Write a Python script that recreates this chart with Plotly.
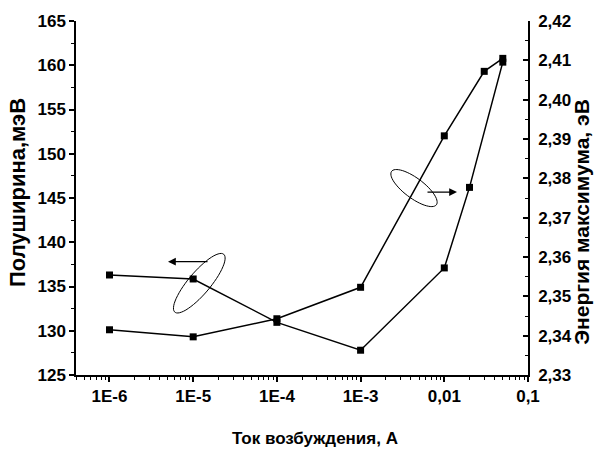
import numpy as np
import plotly.graph_objects as go

# Data
current_fwhm = [1e-6, 1e-5, 1e-4, 1e-3, 1e-2, 2e-2, 5e-2]
fwhm_mev = [136.3, 135.85, 130.95, 127.8, 137.1, 146.2, 160.35]

current_energy = [1e-6, 1e-5, 1e-4, 1e-3, 1e-2, 3e-2, 5e-2]
energy_ev = [2.3415, 2.3397, 2.3443, 2.3523, 2.3908, 2.4072, 2.4105]

x_tickvals = [1e-6, 1e-5, 1e-4, 1e-3, 1e-2, 1e-1]
x_ticktext = ["1E-6", "1E-5", "1E-4", "1E-3", "0,01", "0,1"]

x_title = "Ток возбуждения, А"
y_title = "Полуширина,мэВ"
y2_title = "Энергия максимума, эВ"

W, H = 600, 450
L, R, T, B = 76, 72, 19, 75
pw, ph = W - L - R, H - T - B

def px2paper(x, y):
    return (x - L) / pw, (H - B - y) / ph

def ellipse_path(cx, cy, a, b, ang_deg, n=60):
    t = np.linspace(0, 2 * np.pi, n)
    ang = np.deg2rad(ang_deg)
    xs = cx + a * np.cos(t) * np.cos(ang) - b * np.sin(t) * np.sin(ang)
    ys = cy + a * np.cos(t) * np.sin(ang) + b * np.sin(t) * np.cos(ang)
    pts = [px2paper(x, y) for x, y in zip(xs, ys)]
    return "M " + " L ".join(f"{x:.4f},{y:.4f}" for x, y in pts) + " Z"

minor_vals = [m * 10.0 ** e for e in range(-7, -1) for m in range(2, 10)]
minor_vals = [v for v in minor_vals if 10 ** -6.4 <= v <= 0.1]

fig = go.Figure()
fig.add_trace(go.Scatter(x=current_fwhm, y=fwhm_mev, mode="lines+markers",
                         line=dict(color="black", width=1.5),
                         marker=dict(symbol="square", size=7, color="black"),
                         yaxis="y", showlegend=False))
fig.add_trace(go.Scatter(x=current_energy, y=energy_ev, mode="lines+markers",
                         line=dict(color="black", width=1.5),
                         marker=dict(symbol="square", size=7, color="black"),
                         yaxis="y2", showlegend=False))

def f(size):
    return dict(family="Liberation Sans, Arial", size=size, color="black", weight="bold")

tf = f(17)

fig.update_layout(
    width=W, height=H,
    margin=dict(l=L, r=R, t=T, b=B),
    plot_bgcolor="white", paper_bgcolor="white",
    separators=", ",
    font=tf,
    xaxis=dict(type="log", range=[-6.4, -1], tickvals=x_tickvals, ticktext=x_ticktext,
               showline=True, linecolor="black", linewidth=1.5, ticks="outside",
               ticklen=5, tickwidth=1.5, tickcolor="black", showgrid=False, zeroline=False,
               tickfont=tf,
               minor=dict(tickvals=minor_vals, ticks="outside", ticklen=3, tickwidth=1, tickcolor="black")),
    yaxis=dict(range=[125, 165], dtick=5, showline=True, linecolor="black", linewidth=1.5,
               ticks="outside", ticklen=5, tickwidth=1.5, tickcolor="black",
               showgrid=False, zeroline=False, tickfont=tf,
               minor=dict(dtick=2.5, ticks="outside", ticklen=3, tickwidth=1, tickcolor="black")),
    yaxis2=dict(range=[2.33, 2.42], dtick=0.01, tickformat=".2f", overlaying="y", side="right",
                showline=True, linecolor="black", linewidth=1.5,
                ticks="inside", ticklen=5, tickwidth=1.5, tickcolor="black",
                showgrid=False, zeroline=False, tickfont=tf, ticklabelstandoff=5,
                minor=dict(dtick=0.005, ticks="inside", ticklen=3, tickwidth=1, tickcolor="black")),
)

shapes = [
    dict(type="path", xref="paper", yref="paper", path=ellipse_path(199.3, 282.7, 38, 11, -50),
         line=dict(color="black", width=1)),
    dict(type="path", xref="paper", yref="paper", path=ellipse_path(414, 187, 28, 10, 37),
         line=dict(color="black", width=1)),
]
fig.update_layout(shapes=shapes)

h1 = px2paper(168, 261)
h2 = px2paper(457, 191)
fig.add_annotation(x=h1[0], y=h1[1], xref="paper", yref="paper", ax=41, ay=0,
                   showarrow=True, arrowhead=2, arrowsize=1.2, arrowwidth=1.3, arrowcolor="black", text="")
fig.add_annotation(x=h2[0], y=h2[1], xref="paper", yref="paper", ax=-31, ay=0,
                   showarrow=True, arrowhead=2, arrowsize=1.2, arrowwidth=1.3, arrowcolor="black", text="")

# Axis titles
p = px2paper(315, 439)
fig.add_annotation(x=p[0], y=p[1], xref="paper", yref="paper", text=x_title, showarrow=False,
                   xanchor="center", yanchor="middle", font=f(17))
p = px2paper(17, 192)
fig.add_annotation(x=p[0], y=p[1], xref="paper", yref="paper", text=y_title, showarrow=False,
                   textangle=-90, xanchor="center", yanchor="middle", font=f(22))
p = px2paper(582, 221)
fig.add_annotation(x=p[0], y=p[1], xref="paper", yref="paper", text=y2_title, showarrow=False,
                   textangle=-90, xanchor="center", yanchor="middle", font=f(21))

fig.write_html("out.html")
